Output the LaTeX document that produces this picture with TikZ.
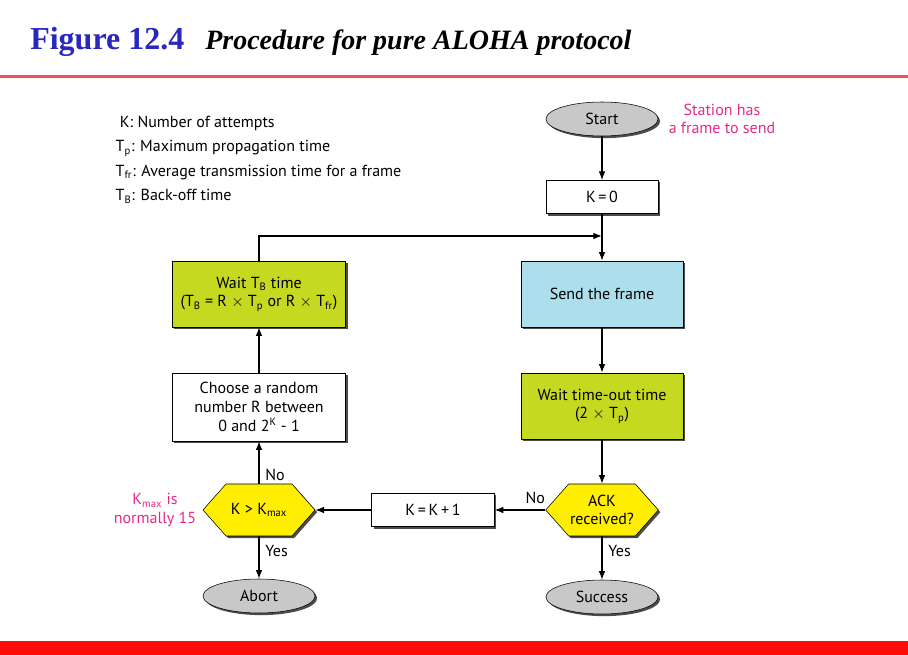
\documentclass[tikz,border=0pt]{standalone}
\usepackage{xcolor}
\usepackage{fontspec}
\setmainfont{PT Sans}
\newfontfamily\titlefont{Liberation Serif}
\usepackage{tikz}
\usetikzlibrary{positioning, arrows.meta, shapes.geometric, shapes.symbols, shadows}

\definecolor{figblue}{RGB}{40,40,190}
\definecolor{ruleRed}{RGB}{240,80,80}
\definecolor{barRed}{RGB}{255,10,10}
\definecolor{skyfill}{RGB}{172,222,236}
\definecolor{limefill}{RGB}{198,217,33}
\definecolor{hexfill}{RGB}{255,238,0}
\definecolor{ovalfill}{RGB}{200,200,200}
\definecolor{notepink}{RGB}{232,40,140}

\newcommand{\ssub}[1]{\textsubscript{#1}}
\newcommand{\ssup}[1]{\textsuperscript{#1}}

\begin{document}
\begin{tikzpicture}[
  x=0.75pt, y=-0.75pt,
  font=\fontsize{12}{14}\selectfont,
  every node/.style={align=center},
  shadowed/.style={drop shadow={shadow xshift=1.6pt, shadow yshift=-1.6pt,
                   opacity=1, fill=black!70}},
  box/.style={draw, thin, shadowed, minimum width=84pt, minimum height=25pt,
              fill=white, inner sep=2pt},
  bigbox/.style={box, minimum width=121.5pt, minimum height=49.5pt},
  oval/.style={draw, thin, ellipse, shadowed, fill=ovalfill,
               minimum width=84pt, minimum height=25.5pt, inner sep=1pt},
  hexa/.style={draw, thin, signal, signal to=east and west, signal pointer angle=97,
               shadowed, fill=hexfill, minimum width=84pt, minimum height=39pt,
               inner sep=1pt},
  note/.style={text=notepink},
  arrow/.style={-{Latex[length=6.5pt, width=5pt]}, line width=0.9pt}
]
\useasboundingbox (0,0) rectangle (908,655);

% title and rules
\node[anchor=base west, text=figblue, font=\titlefont\bfseries\fontsize{24}{26}\selectfont,
      inner sep=0pt] (fig) at (30,50) {Figure 12.4};
\node[anchor=base west, font=\titlefont\bfseries\itshape\fontsize{21}{24}\selectfont,
      inner sep=0pt] (caption) at (205,50) {Procedure for pure ALOHA protocol};
\fill[ruleRed] (0,75) rectangle (908,78);
\fill[barRed] (0,641) rectangle (908,655);

% legend
\node[anchor=north west, align=left, font=\fontsize{12}{18.4}\selectfont] (legend) at (111,111)
  {\ K: Number of attempts\\
   T\ssub{p}: Maximum propagation time\\
   T\ssub{fr}: Average transmission time for a frame\\
   T\ssub{B}: Back-off time};

% right column
\node[oval]    (start)  at (602,119) {Start};
\node[note]    (station) at (722,119) {Station has\\a frame to send};
\node[box]     (kzero)  at (602,197) {K\,=\,0};
\node[bigbox, fill=skyfill]  (send) at (602,294) {Send the frame};
\node[bigbox, fill=limefill] (tout) at (602,406) {Wait time-out time\\(2 $\times$ T\ssub{p})};
\node[hexa]    (ack)    at (602,510) {ACK\\received?};
\node[oval]    (success) at (602,597) {Success};

% left column
\node[bigbox, fill=limefill, minimum width=130pt] (waitb) at (259,294)
  {Wait T\ssub{B} time\\(T\ssub{B} = R $\times$ T\ssub{p} or R $\times$ T\ssub{fr})};
\node[bigbox, minimum width=130pt, minimum height=51pt] (choose) at (259,407)
  {Choose a random\\number R between\\0 and 2\ssup{K} - 1};
\node[hexa]    (kmax)   at (259,510) {K > K\ssub{max}};
\node[oval]    (abort)  at (259,596) {Abort};
\node[note]    (kmaxnote) at (155,510) {K\ssub{max} is\\normally 15};

% middle
\node[box, minimum width=92pt] (kinc) at (433,510) {K\,=\,K\,+\,1};

\coordinate (join) at (602,236);

\draw[arrow] (start) -- (kzero);
\draw[arrow] (kzero) -- (send);
\draw[arrow] (waitb.north) |- (join);
\draw[arrow] (send) -- (tout);
\draw[arrow] (tout.south) -- (ack.north);
\draw[arrow] (ack.south) -- node[pos=0.35, right=1pt] {Yes} (success.north);
\draw[arrow] (ack.west) -- node[pos=0.2, above=1pt] {No} (kinc.east);
\draw[arrow] (kinc.west) -- (kmax.east);
\draw[arrow] (kmax.south) -- node[pos=0.35, right=1pt] {Yes} (abort.north);
\draw[arrow] (kmax.north) -- node[pos=0.2, right=1pt] {No} (choose.south);
\draw[arrow] (choose) -- (waitb);

\end{tikzpicture}
\end{document}
